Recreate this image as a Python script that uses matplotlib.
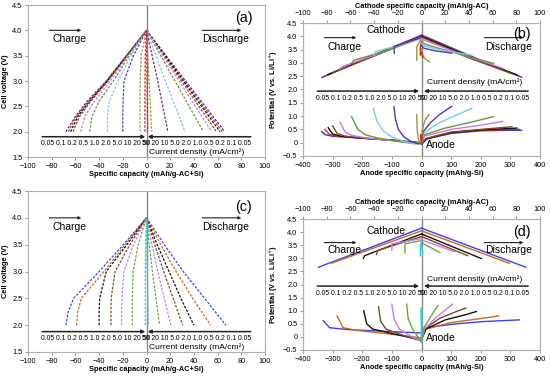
import matplotlib.pyplot as plt
import numpy as np

plt.rcParams['font.family'] = ['Liberation Sans', 'DejaVu Sans']
plt.rcParams['axes.unicode_minus'] = True

rates = ['0.05', '0.1', '0.2', '0.5', '1.0', '2.0', '5.0', '10', '20', '50']
cols10 = ['#3333cc', '#cc3322', '#111111', '#8b4513', '#cc77ee',
          '#669933', '#77ccee', '#5533bb', '#999933', '#cc2222']
cols7 = ['#3344ee', '#cc6622', '#111111', '#7a4a2a', '#cc77ff', '#66aa33', '#33cccc']

left_lbl = '0.05 0.1 0.2 0.5 1.0 2.0 5.0 10 20 50'
right_lbl = '50 20 10 5.0 2.0 1.0 0.5 0.2 0.1 0.05'

# ---- (a) cell voltage, 10 rates
a_chg_v = [2.0, 2.3, 2.6, 3.0, 3.5, 4.0]
a_chg_q = [[-68, -60, -50, -34, -17, 0],
           [-66, -59, -49, -33.5, -16.8, 0],
           [-64, -58, -48, -33, -16.5, 0],
           [-62, -56.5, -47, -32.5, -16.3, 0],
           [-55.5, -52, -44, -30.5, -15.5, 0],
           [-48, -46, -40, -28, -14.5, 0],
           [-33, -33, -31.5, -24, -13, 0],
           [-20, -20, -19.8, -19, -11, 0],
           [-5.5, -5.5, -5.5, -5.3, -4.5, 0],
           [-1.3, -1.3, -1.3, -1.2, -1, 0]]
a_dis_v = [4.0, 3.0, 2.0]
a_dis_q = [[0, 33, 66], [0, 32, 64], [0, 31, 62], [0, 29.5, 59], [0, 27.5, 55],
           [0, 24, 48], [0, 16, 32.5], [0, 9.5, 18], [0, 2.2, 4.4], [0, 0.5, 1]]

# ---- (c) cell voltage, 7 rates
c_chg_v = [2.0, 2.25, 2.5, 3.0, 3.5, 4.0]
c_chg_q = [[-68, -66, -61.5, -40, -19.5, 0],
           [-59, -58, -55, -36, -18, 0],
           [-40, -40, -39.5, -34, -16.5, 0],
           [-30, -30, -29.8, -26.5, -14, 0],
           [-21, -21, -20.8, -19, -11, 0],
           [-12, -12, -12, -11.3, -7, 0],
           [-1, -1, -1, -1, -0.7, 0]]
c_dis_v = [4.0, 3.5, 3.0, 2.5, 2.0]
c_dis_q = [[0, 15, 31, 49, 67],
           [0, 12, 25, 39, 54],
           [0, 9, 19, 29, 40],
           [0, 7, 14.5, 22.5, 30.5],
           [0, 4.5, 9.5, 15, 20.5],
           [0, 2.3, 5, 8, 11],
           [0, 0.3, 0.7, 1.1, 1.5]]

# ---- (b) electrode potentials, 10 rates
b_an_chg = [([-337, -325, -300, -200, -100, -30, 0], [0.42, 0.3, 0.24, 0.17, 0.1, 0.03, 0.0]),
            ([-326, -312, -290, -200, -100, -30, 0], [0.5, 0.32, 0.25, 0.17, 0.1, 0.02, 0.0]),
            ([-315, -300, -275, -200, -100, -30, 0], [0.56, 0.33, 0.25, 0.17, 0.09, 0.01, 0.0]),
            ([-300, -285, -260, -200, -100, -30, 0], [0.63, 0.35, 0.25, 0.18, 0.09, 0.0, 0.0]),
            ([-275, -258, -235, -180, -100, -30, 0], [0.77, 0.4, 0.27, 0.17, 0.08, -0.01, 0.0]),
            ([-236, -215, -190, -150, -80, -30, 0], [0.98, 0.5, 0.3, 0.18, 0.05, -0.03, 0.0]),
            ([-163, -150, -130, -100, -60, -20, 0], [1.29, 0.8, 0.45, 0.22, 0.05, -0.05, 0.0]),
            ([-93, -88, -78, -60, -35, -10, 0], [1.35, 0.9, 0.5, 0.22, 0.05, -0.05, 0.0]),
            ([-16, -15, -12, -6, 0], [1.05, 0.6, 0.2, 0.0, 0.0]),
            ([-3, -2, 0], [0.3, 0.1, 0.0])]
b_an_dis = [([0, 20, 100, 200, 338], [-0.05, 0.15, 0.35, 0.45, 0.47]),
            ([0, 18, 100, 200, 330], [-0.05, 0.15, 0.37, 0.47, 0.5]),
            ([0, 16, 100, 200, 322], [-0.05, 0.15, 0.38, 0.48, 0.55]),
            ([0, 15, 100, 200, 305], [-0.05, 0.16, 0.4, 0.5, 0.6]),
            ([0, 10, 100, 200, 274], [0.0, 0.25, 0.5, 0.66, 0.8]),
            ([0, 10, 80, 160, 243], [0.0, 0.3, 0.55, 0.75, 0.98]),
            ([0, 8, 50, 100, 170], [0.0, 0.35, 0.7, 0.95, 1.29]),
            ([0, 5, 30, 60, 102], [0.0, 0.4, 0.75, 1.05, 1.37]),
            ([0, 3, 12, 25], [0.0, 0.5, 0.85, 1.05]),
            ([0, 1, 3], [0.0, 0.2, 0.3])]
b_ca_chg = [([-84, -42, 0], [2.45, 3.27, 4.04]),
            ([-81.5, -42, 0], [2.5, 3.26, 4.02]),
            ([-79, -42, 0], [2.56, 3.24, 4.0]),
            ([-75, -42, 0], [2.63, 3.22, 3.98]),
            ([-69, -66, -42, 0], [2.77, 2.88, 3.25, 3.97]),
            ([-59, -57, -30, 0], [2.98, 3.1, 3.45, 3.94]),
            ([-40, -39, -20, 0], [3.29, 3.42, 3.65, 3.92]),
            ([-23, -23, 0], [3.35, 3.62, 3.95]),
            ([-4, -4, -1], [3.1, 3.6, 3.85]),
            ([-1, -1, 0], [3.3, 3.6, 3.8])]
b_ca_dis = [([0, 42, 84.5], [4.05, 3.25, 2.46]),
            ([0, 41, 82.5], [4.03, 3.24, 2.5]),
            ([0, 40, 80.5], [4.0, 3.23, 2.55]),
            ([0, 38, 76], [3.97, 3.22, 2.6]),
            ([0, 35, 68.5], [3.9, 3.3, 2.8]),
            ([0, 3, 30, 61], [3.82, 3.7, 3.35, 2.98]),
            ([0, 3, 20, 42.5], [3.75, 3.62, 3.45, 3.29]),
            ([0, 2, 12, 25.5], [3.65, 3.55, 3.45, 3.37]),
            ([0, 1, 3, 6.5], [3.55, 3.3, 3.15, 3.05]),
            ([0, 0.5, 1], [3.4, 3.3, 3.2])]

# ---- (d) electrode potentials, 7 rates
d_an_chg = [([-332, -310, -250, -100, 0], [0.62, 0.35, 0.28, 0.2, 0.15]),
            ([-285, -265, -220, -100, 0], [0.8, 0.35, 0.25, 0.1, -0.04]),
            ([-195, -185, -165, -80, 0], [1.0, 0.5, 0.3, 0.08, -0.12]),
            ([-145, -138, -120, -60, 0], [1.15, 0.6, 0.3, 0.05, -0.15]),
            ([-100, -93, -75, -40, 0], [1.25, 0.7, 0.3, 0.05, -0.17]),
            ([-50, -45, -30, -15, 0], [1.25, 0.7, 0.3, 0.05, -0.2]),
            ([-2, -1, 0], [1.1, 0.5, -0.2])]
d_an_dis = [([0, 15, 100, 200, 330], [0.0, 0.35, 0.48, 0.58, 0.65]),
            ([0, 15, 100, 200, 260], [-0.05, 0.3, 0.55, 0.7, 0.8]),
            ([0, 15, 80, 150, 185], [-0.1, 0.3, 0.65, 0.85, 0.97]),
            ([0, 10, 60, 120, 150], [-0.12, 0.3, 0.7, 0.98, 1.1]),
            ([0, 10, 50, 105], [-0.15, 0.3, 0.75, 1.25]),
            ([0, 8, 30, 55], [-0.18, 0.35, 0.75, 1.2]),
            ([0, 1, 2], [-0.2, 0.5, 1.05])]
d_ca_chg = [([-87, 0], [2.66, 4.15]),
            ([-76, 0], [2.81, 4.05]),
            ([-49, -48, 0], [3.0, 3.1, 3.93]),
            ([-38, -37, 0], [3.15, 3.3, 3.83]),
            ([-25, -25, 0], [3.3, 3.55, 3.75]),
            ([-14, -14, 0], [3.2, 3.55, 3.68]),
            ([-1, -1, 0], [3.1, 3.5, 3.6])]
d_ca_dis = [([0, 88], [4.15, 2.66]),
            ([0, 74], [4.05, 2.81]),
            ([0, 50.5], [3.93, 2.99]),
            ([0, 39], [3.83, 3.1]),
            ([0, 28], [3.7, 3.25]),
            ([0, 15.5], [3.6, 3.22]),
            ([0, 1], [3.5, 3.2])]

fig = plt.figure(figsize=(5.5, 3.76), dpi=100)
W, H = 550, 376


def box(l, t, r, b):
    return [l / W, 1 - b / H, (r - l) / W, (b - t) / H]


FS = 5.3
LFS = 4.9
frame = '#b0b0b0'


def style(ax):
    for s in ax.spines.values():
        s.set_color(frame)
        s.set_linewidth(0.8)
    ax.tick_params(labelsize=FS, length=2.5, width=0.6, color='#888888', pad=1.5)


def cd_scale(ax, y, yl, ycd, xl0, xl1, xr0, xr1, cx_l, cx_r):
    ax.annotate('', xy=(xl1, y), xytext=(xl0, y),
                arrowprops=dict(arrowstyle='-|>', color='#222222', lw=1.1,
                                mutation_scale=5, shrinkA=0, shrinkB=0))
    ax.annotate('', xy=(xr0, y), xytext=(xr1, y),
                arrowprops=dict(arrowstyle='-|>', color='#222222', lw=1.1,
                                mutation_scale=5, shrinkA=0, shrinkB=0))
    ax.text(cx_l, yl, left_lbl, fontsize=LFS, ha='center', va='center')
    ax.text(cx_r, yl, right_lbl, fontsize=LFS, ha='center', va='center')
    ax.text(cx_r, ycd, 'Current density (mA/cm\u00b2)', fontsize=FS + 0.8, ha='center', va='center')


def cell_panel(ax, chg_v, chg_q, dis_v, dis_q, cols, tag, ys):
    ax.axvline(0, color='#888888', lw=1.0, zorder=1)
    for q, c in zip(chg_q, cols):
        ax.plot(q, chg_v, color=c, lw=0.9, ls=(0, (2, 1.2)))
    for q, c in zip(dis_q, cols):
        ax.plot(q, dis_v, color=c, lw=0.9, ls=(0, (2, 1.2)))
    ax.set_xlim(-100, 100)
    ax.set_ylim(1.5, 4.5)
    ax.set_xticks(np.arange(-100, 101, 20))
    ax.set_yticks(np.arange(1.5, 4.51, 0.5))
    ax.set_yticklabels(['%.1f' % v for v in np.arange(1.5, 4.51, 0.5)])
    ax.set_xlabel('Specific capacity (mAh/g-AC+Si)', fontsize=FS, fontweight='bold', labelpad=1)
    ax.set_ylabel('Cell voltage (V)', fontsize=FS, fontweight='bold', labelpad=2)
    style(ax)
    cd_scale(ax, ys[0], ys[1], ys[2], -88, -1, 1, 88, -43, 42.5)
    ax.annotate('', xy=(-55, 4.0), xytext=(-82, 4.0),
                arrowprops=dict(arrowstyle='-|>', color='#222222', lw=0.8,
                                mutation_scale=4, shrinkA=0, shrinkB=0))
    ax.text(-79, 3.83, 'Charge', fontsize=FS + 2.2, va='center')
    ax.annotate('', xy=(80, 4.0), xytext=(47, 4.0),
                arrowprops=dict(arrowstyle='-|>', color='#222222', lw=0.8,
                                mutation_scale=4, shrinkA=0, shrinkB=0))
    ax.text(47, 3.83, 'Discharge', fontsize=FS + 2.2, va='center')
    ax.text(tag[0], tag[1], tag[2], fontsize=FS + 5, ha='center', va='center')


def elec_panel(ax, an_chg, an_dis, ca_chg, ca_dis, cols, tag, ys):
    ax2 = ax.twiny()
    ax.axvline(0, color='#888888', lw=1.0, zorder=1)
    for (x, y), c in zip(an_chg, cols):
        ax.plot(x, y, color=c, lw=1.0)
    for (x, y), c in zip(an_dis, cols):
        ax.plot(x, y, color=c, lw=1.0)
    for (x, y), c in zip(ca_chg, cols):
        ax2.plot(x, y, color=c, lw=1.0)
    for (x, y), c in zip(ca_dis, cols):
        ax2.plot(x, y, color=c, lw=1.0)
    ax.set_xlim(-400, 400)
    ax2.set_xlim(-100, 100)
    ax.set_ylim(-0.5, 4.5)
    ax.set_xticks(np.arange(-400, 401, 100))
    ax2.set_xticks(np.arange(-100, 101, 20))
    yt = np.arange(-0.5, 4.51, 0.5)
    ax.set_yticks(yt)
    ax.set_yticklabels(['0' if abs(v) < 1e-9 else ('\u22120.5' if v < 0 else '%.1f' % v) for v in yt])
    ax.set_xlabel('Anode specific capacity (mAh/g-Si)', fontsize=FS, fontweight='bold', labelpad=1)
    ax2.set_xlabel('Cathode specific capacity (mAh/g-AC)', fontsize=FS, fontweight='bold', labelpad=2)
    ax.set_ylabel('Potential (V vs. Li/Li$^{+}$)', fontsize=FS, fontweight='bold', labelpad=2)
    style(ax)
    style(ax2)
    cd_scale(ax2, ys[4], ys[5], ys[6], -88, -2, 2, 90, -43, 45)
    ax2.annotate('', xy=(-55, ys[0]), xytext=(-82, ys[0]),
                 arrowprops=dict(arrowstyle='-|>', color='#222222', lw=0.8,
                                 mutation_scale=4, shrinkA=0, shrinkB=0))
    ax2.text(-79, ys[1], 'Charge', fontsize=FS + 2.2, va='center')
    ax2.annotate('', xy=(86, ys[0]), xytext=(53, ys[0]),
                 arrowprops=dict(arrowstyle='-|>', color='#222222', lw=0.8,
                                 mutation_scale=4, shrinkA=0, shrinkB=0))
    ax2.text(54, ys[1], 'Discharge', fontsize=FS + 2.2, va='center')
    ax2.text(-30, ys[2], 'Cathode', fontsize=FS + 2.2, ha='center', va='center')
    ax2.text(16, ys[3], 'Anode', fontsize=FS + 2.2, ha='center', va='center')
    ax2.text(tag[0], tag[1], tag[2], fontsize=FS + 5, ha='center', va='center')


axa = fig.add_axes(box(28, 5, 265, 157))
cell_panel(axa, a_chg_v, a_chg_q, a_dis_v, a_dis_q, cols10, (82, 4.25, '(a)'),
           (1.9, 1.765, 1.6))

axc = fig.add_axes(box(28, 191, 265, 352))
cell_panel(axc, c_chg_v, c_chg_q, c_dis_v, c_dis_q, cols7, (82, 4.2, '(c)'),
           (1.88, 1.745, 1.585))

axb = fig.add_axes(box(303, 23, 540, 156))
elec_panel(axb, b_an_chg, b_an_dis, b_ca_chg, b_ca_dis, cols10, (85, 4.08, '(b)'),
           (3.95, 3.6, 4.25, -0.1, 1.94, 1.67, 2.26))

axd = fig.add_axes(box(303, 219, 540, 350))
elec_panel(axd, d_an_chg, d_an_dis, d_ca_chg, d_ca_dis, cols7, (85, 4.0, '(d)'),
           (3.6, 3.3, 4.05, -0.05, 1.94, 1.66, 2.22))

fig.savefig('out.png', dpi=100)
